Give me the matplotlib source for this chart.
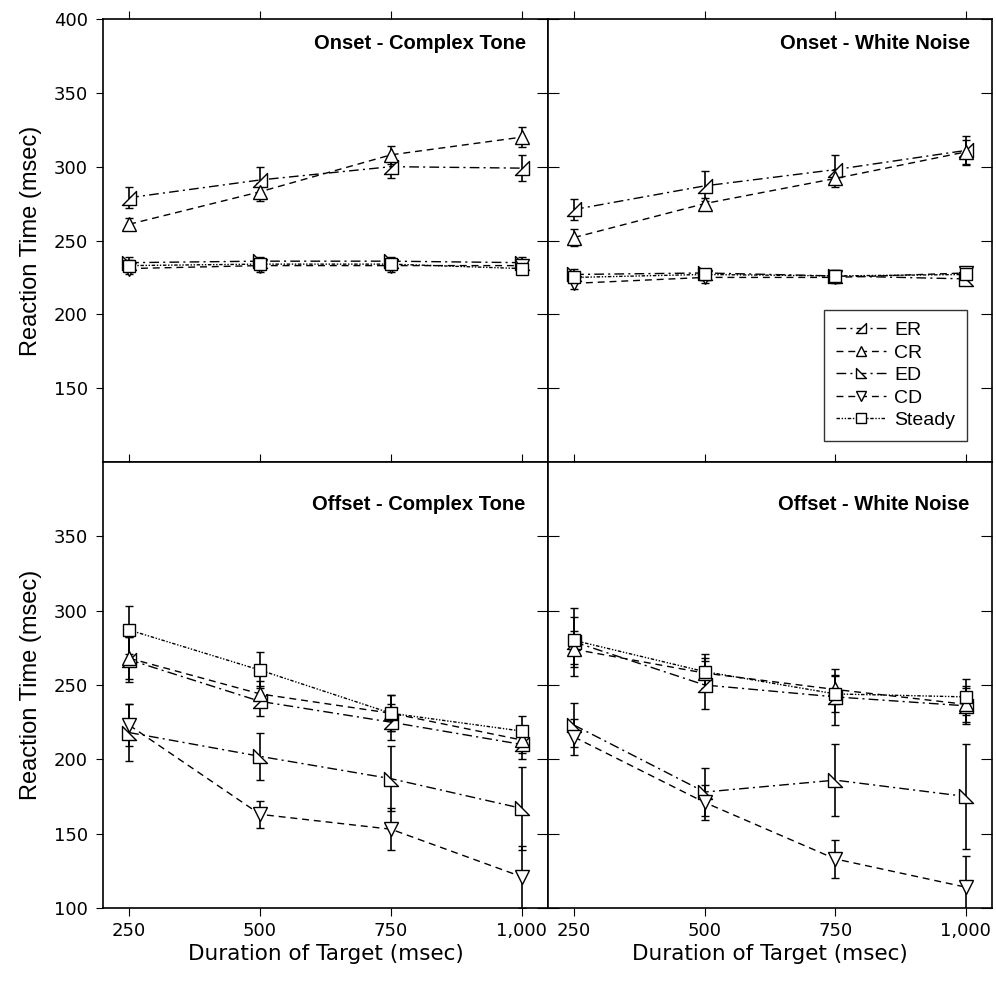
import matplotlib
matplotlib.use("Agg")
import matplotlib.pyplot as plt
from matplotlib.path import Path
from matplotlib.lines import Line2D

plt.rcParams['font.family'] = ['Liberation Sans', 'DejaVu Sans']

durations = [250, 500, 750, 1000]
conditions = ["ER", "CR", "ED", "CD", "Steady"]
xtick_labels = ["250", "500", "750", "1,000"]

# mean reaction times (msec)
onset_tone = {"ER": [279, 291, 300, 299], "CR": [261, 283, 308, 320],
              "ED": [235, 236, 236, 235], "CD": [231, 233, 233, 233],
              "Steady": [233, 234, 234, 231]}
onset_tone_err = {"ER": [7, 9, 8, 9], "CR": [4, 6, 6, 7],
                  "ED": [4, 3, 3, 4], "CD": [4, 4, 4, 4],
                  "Steady": [4, 4, 4, 4]}

onset_noise = {"ER": [271, 287, 298, 311], "CR": [252, 275, 292, 310],
               "ED": [227, 228, 226, 224], "CD": [221, 225, 225, 228],
               "Steady": [225, 227, 226, 227]}
onset_noise_err = {"ER": [7, 10, 10, 10], "CR": [6, 4, 6, 8],
                   "ED": [4, 3, 3, 4], "CD": [4, 4, 4, 4],
                   "Steady": [4, 4, 4, 4]}

offset_tone = {"ER": [267, 239, 225, 210], "CR": [268, 244, 231, 213],
               "ED": [218, 202, 187, 167], "CD": [223, 163, 153, 121],
               "Steady": [287, 260, 231, 219]}
offset_tone_err = {"ER": [15, 10, 12, 10], "CR": [14, 9, 12, 9],
                   "ED": [19, 16, 22, 28], "CD": [14, 9, 14, 21],
                   "Steady": [16, 12, 12, 10]}

offset_noise = {"ER": [279, 250, 242, 236], "CR": [274, 258, 247, 237],
                "ED": [223, 178, 186, 175], "CD": [215, 171, 133, 114],
                "Steady": [280, 259, 244, 242]}
offset_noise_err = {"ER": [23, 16, 19, 12], "CR": [12, 10, 10, 12],
                    "ED": [15, 16, 24, 35], "CD": [12, 12, 13, 21],
                    "Steady": [16, 12, 12, 12]}

# marker shapes and line styles
er_marker = Path([(-1, -1), (1, -1), (1, 1), (-1, -1)],
                 [Path.MOVETO, Path.LINETO, Path.LINETO, Path.CLOSEPOLY])
ed_marker = Path([(-1, 1), (-1, -1), (1, -1), (-1, 1)],
                 [Path.MOVETO, Path.LINETO, Path.LINETO, Path.CLOSEPOLY])
markers = {"ER": er_marker, "CR": "^", "ED": ed_marker, "CD": "v", "Steady": "s"}
styles = {"ER": (0, (7, 3, 1.5, 3)), "CR": (0, (5, 3.5)),
          "ED": (0, (7, 3, 1.5, 3)), "CD": (0, (5, 3.5)),
          "Steady": (0, (2.5, 1.2, 1, 1.2, 1, 1.2))}
msize = {"ER": 9.5, "CR": 9.5, "ED": 9.5, "CD": 9.5, "Steady": 8.5}

tick_font = ['DejaVu Sans']

fig = plt.figure(figsize=(9.96, 9.86), dpi=100)

W, H = 996, 986
def box(x0, y0, x1, y1):
    return [x0 / W, 1 - y1 / H, (x1 - x0) / W, (y1 - y0) / H]

ax_tl = fig.add_axes(box(103, 19, 548, 462))
ax_tr = fig.add_axes(box(548, 19, 992, 462))
ax_bl = fig.add_axes(box(103, 462, 548, 908))
ax_br = fig.add_axes(box(548, 462, 992, 908))

panels = [(ax_tl, onset_tone, onset_tone_err, "Onset - Complex Tone", 0.944),
          (ax_tr, onset_noise, onset_noise_err, "Onset - White Noise", 0.944),
          (ax_bl, offset_tone, offset_tone_err, "Offset - Complex Tone", 0.904),
          (ax_br, offset_noise, offset_noise_err, "Offset - White Noise", 0.904)]

for ax, means, errs, title, ty in panels:
    for c in conditions:
        ax.errorbar(durations, means[c], yerr=errs[c], color="black",
                    linestyle=styles[c], linewidth=1.0, marker=markers[c],
                    markersize=msize[c], markerfacecolor="white",
                    markeredgecolor="black", markeredgewidth=1.0,
                    ecolor="black", elinewidth=1.2, capsize=3, capthick=1.2)
    ax.set_xlim(200, 1050)
    ax.set_ylim(100, 400)
    ax.set_xticks(durations)
    ax.text(0.95, ty, title, transform=ax.transAxes, ha="right", va="center",
            fontsize=14.5, fontweight="bold")
    for s in ax.spines.values():
        s.set_linewidth(1.2)

for ax in (ax_tl, ax_tr):
    ax.tick_params(axis="x", which="both", top=True, bottom=True,
                   direction="out", length=6, labelbottom=False)
    ax.set_yticks([150, 200, 250, 300, 350, 400])
for ax in (ax_bl, ax_br):
    ax.tick_params(axis="x", top=True, bottom=True, direction="out",
                   length=6, pad=4)
    ax.set_xticklabels(xtick_labels, fontsize=13, family=tick_font)
    ax.set_yticks([100, 150, 200, 250, 300, 350])
    ax.set_xlabel("Duration of Target (msec)", fontsize=15.5,
                  family=tick_font, labelpad=3)

for ax in (ax_tl, ax_bl):
    ax.tick_params(axis="y", left=True, right=False, direction="out",
                   length=5, pad=6)
    for lab in ax.get_yticklabels():
        lab.set_fontsize(13)
        lab.set_family(tick_font)
    ax.set_ylabel("Reaction Time (msec)", fontsize=17, labelpad=8)
    ax2 = ax.secondary_yaxis("right")
    ax2.set_yticks(ax.get_yticks())
    ax2.tick_params(direction="in", length=8, labelright=False)
for ax in (ax_tr, ax_br):
    ax.tick_params(axis="y", left=True, right=True, direction="in",
                   length=8, labelleft=False)

handles = [Line2D([], [], color="black", linestyle=styles[c], linewidth=1.0,
                  marker=markers[c], markersize=msize[c] - 2,
                  markerfacecolor="white", markeredgecolor="black")
           for c in conditions]
leg = ax_tr.legend(handles, conditions, loc="lower right",
                   bbox_to_anchor=(0.943, 0.048), borderaxespad=0,
                   fontsize=14, frameon=True, fancybox=False,
                   edgecolor="black", handlelength=2.6, labelspacing=0.25,
                   handletextpad=0.4, borderpad=0.6)
leg.get_frame().set_linewidth(1.0)

fig.savefig("out.png", dpi=100)
